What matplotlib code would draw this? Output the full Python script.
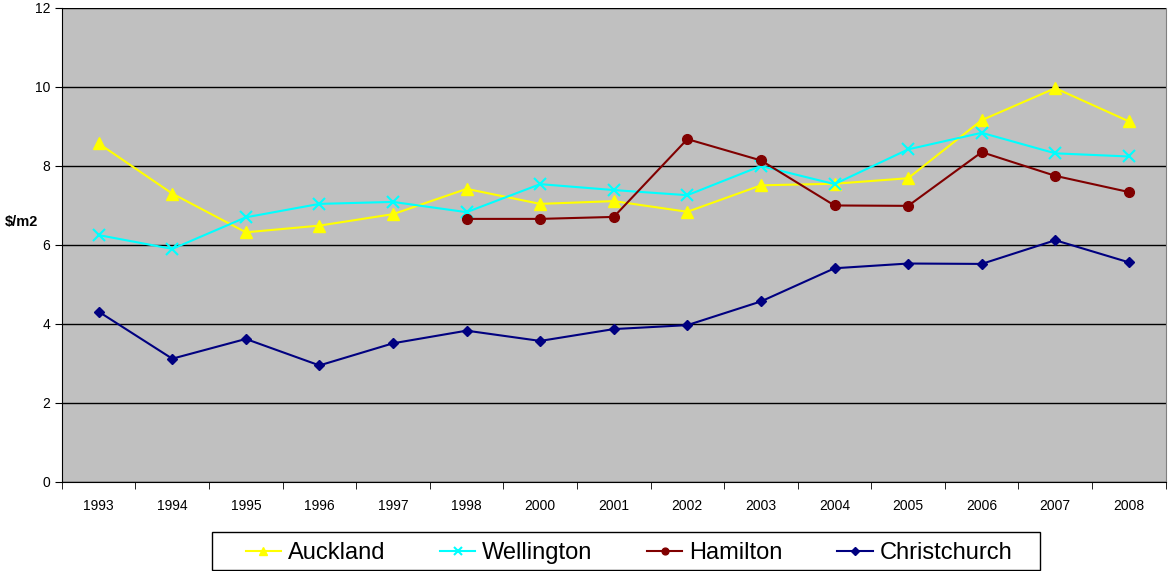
import matplotlib; matplotlib.use("Agg")
import matplotlib.pyplot as plt
from matplotlib.patches import Rectangle
import numpy as np

plt.rcParams["font.family"] = ["Liberation Sans", "DejaVu Sans"]

years = ["1993", "1994", "1995", "1996", "1997", "1998", "2000", "2001",
         "2002", "2003", "2004", "2005", "2006", "2007", "2008"]
auckland = [8.57, 7.30, 6.32, 6.49, 6.78, 7.42, 7.04, 7.11, 6.84, 7.51, 7.55, 7.69, 9.16, 9.97, 9.13]
wellington = [6.25, 5.90, 6.70, 7.04, 7.09, 6.83, 7.54, 7.39, 7.26, 8.00, 7.54, 8.42, 8.84, 8.32, 8.24]
hamilton = [np.nan, np.nan, np.nan, np.nan, np.nan, 6.66, 6.66, 6.71, 8.68, 8.14, 7.00, 6.99, 8.35, 7.75, 7.34]
christchurch = [4.31, 3.12, 3.62, 2.95, 3.51, 3.83, 3.57, 3.87, 3.97, 4.57, 5.41, 5.53, 5.52, 6.12, 5.56]

fig = plt.figure(figsize=(11.68, 5.71), dpi=100)
ax = fig.add_axes([0.053, 0.156, 0.945, 0.830])
ax.set_facecolor("#C0C0C0")
x = np.arange(len(years))

ax.plot(x, auckland, "-^", color="#FFFF00", lw=1.5, ms=8, label="Auckland")
ax.plot(x, wellington, "-x", color="#00FFFF", lw=1.5, ms=8, mew=1.5, label="Wellington")
ax.plot(x, hamilton, "-o", color="#800000", lw=1.5, ms=7, label="Hamilton")
ax.plot(x, christchurch, "-D", color="#000080", lw=1.5, ms=5.5, label="Christchurch")

ax.set_xlim(-0.5, len(years) - 0.5)
ax.set_ylim(0, 12)
ax.set_yticks(range(0, 13, 2))
ax.yaxis.grid(True, color="black", lw=1)
ax.set_axisbelow(True)
ax.set_xticks(x)
ax.set_xticklabels(years, fontsize=10)
ax.tick_params(axis="x", length=0, pad=12)
ax.set_xticks(np.arange(-0.5, len(years)), minor=True)
ax.tick_params(axis="x", which="minor", length=5, direction="out")
ax.tick_params(axis="y", labelsize=10, length=5)
ax.spines["top"].set_visible(False)
ax.spines["right"].set_color("#808080")
ax.set_ylabel("$/m2", rotation=0, fontsize=10.5, fontweight="bold", va="center")
ax.yaxis.set_label_coords(-0.037, 0.549)

# legend without its own frame, box drawn separately (wide side padding like Excel)
leg = fig.legend(loc="center", bbox_to_anchor=(0.5385, 0.031), ncol=4, fontsize=17,
                 frameon=False, handlelength=1.5, columnspacing=2.3,
                 handletextpad=0.3, markerscale=0.7)
fig.patches.append(Rectangle((0.1815, 0.0018), 0.7089, 0.0665, transform=fig.transFigure,
                             fill=False, edgecolor="black", lw=1))

fig.savefig("out.png", dpi=100)
